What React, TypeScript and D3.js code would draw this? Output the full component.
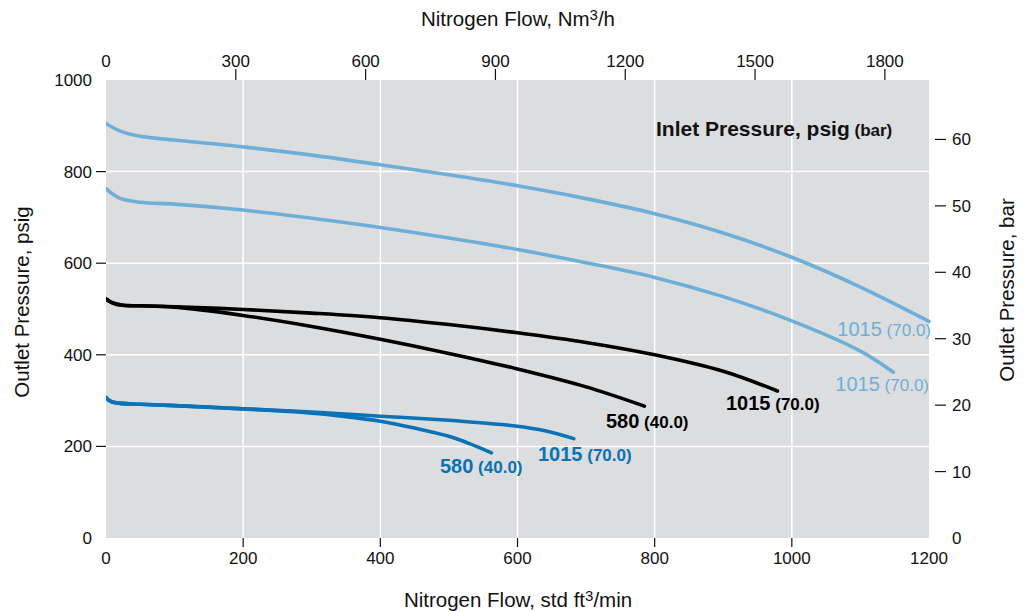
import React, { useEffect, useRef } from "react";
import * as d3 from "d3";

// flow in std ft3/min, outlet pressure in psig
const lightTopFlow = [0, 20, 50, 100, 200, 300, 400, 500, 600, 700, 800, 900, 1000, 1100, 1200];
const lightTopP = [905, 889, 877, 869, 854, 836, 815, 793, 769, 741, 708, 666, 613, 548, 473];

const lightLowFlow = [0, 20, 50, 100, 200, 300, 400, 500, 600, 700, 800, 900, 1000, 1100, 1148];
const lightLowP = [763, 742, 733, 729, 716, 698, 678, 655, 630, 601, 569, 527, 474, 408, 362];

const black1015Flow = [0, 10, 25, 50, 100, 200, 300, 400, 500, 600, 700, 800, 900, 979];
const black1015P = [522, 513, 508, 507, 505, 499, 491, 481, 466, 448, 427, 400, 364, 321];

const black580Flow = [0, 10, 25, 50, 100, 200, 300, 400, 500, 600, 700, 785];
const black580P = [522, 513, 508, 507, 504, 486, 462, 434, 403, 369, 330, 288];

const blue1015Flow = [0, 5, 15, 50, 100, 200, 300, 400, 500, 550, 600, 640, 682];
const blue1015P = [307, 300, 295, 292, 289, 282, 275, 266, 257, 251, 244, 234, 217];

const blue580Flow = [0, 5, 15, 50, 100, 200, 280, 350, 400, 450, 500, 530, 562];
const blue580P = [307, 300, 295, 292, 289, 282, 275, 265, 255, 240, 222, 206, 186];

const bottomTicks = [0, 200, 400, 600, 800, 1000, 1200];
const topTicks = [0, 300, 600, 900, 1200, 1500, 1800];
const leftTicks = [0, 200, 400, 600, 800, 1000];
const rightTicks = [0, 10, 20, 30, 40, 50, 60];

const NM3H_PER_SCFM = 1.585;
const PSI_PER_BAR = 14.5038;

const LIGHT = "#6eafd7";
const DARK = "#0a72b6";
const BLACK = "#000000";

const FONT = "'Liberation Sans', Arial, Helvetica, sans-serif";

export default function App() {
  const svgRef = useRef<SVGSVGElement>(null);

  useEffect(() => {
    const svg = d3.select(svgRef.current);
    svg.selectAll("*").remove();

    const left = 106, right = 929, top = 80, bottom = 538;

    const x = d3.scaleLinear().domain([0, 1200]).range([left, right]);
    const xTop = d3.scaleLinear().domain([0, 1200 * NM3H_PER_SCFM]).range([left, right]);
    const y = d3.scaleLinear().domain([0, 1000]).range([bottom, top]);
    const yBar = d3.scaleLinear().domain([0, 1000 / PSI_PER_BAR]).range([bottom, top]);

    svg.append("rect")
      .attr("x", left).attr("y", top)
      .attr("width", right - left).attr("height", bottom - top)
      .attr("fill", "#dcdddf");

    // grid
    svg.append("g").selectAll("line")
      .data([200, 400, 600, 800, 1000])
      .enter().append("line")
      .attr("x1", d => x(d)).attr("x2", d => x(d))
      .attr("y1", top).attr("y2", bottom)
      .attr("stroke", "#fff").attr("stroke-width", 1.5);
    svg.append("g").selectAll("line")
      .data([200, 400, 600, 800])
      .enter().append("line")
      .attr("y1", d => y(d)).attr("y2", d => y(d))
      .attr("x1", left).attr("x2", right)
      .attr("stroke", "#fff").attr("stroke-width", 1.5);

    const tickStyle = (g: any) => g
      .style("font-family", FONT).style("font-size", "17px").attr("fill", "#111");

    // bottom axis
    const bx = svg.append("g").call(tickStyle);
    bottomTicks.forEach(t => {
      if (t > 0 && t < 1200) {
        bx.append("line").attr("x1", x(t)).attr("x2", x(t))
          .attr("y1", bottom).attr("y2", bottom + 9).attr("stroke", "#111").attr("stroke-width", 1.2);
      }
      bx.append("text").attr("x", x(t)).attr("y", 564)
        .attr("text-anchor", "middle").text(t);
    });

    // top axis
    const tx = svg.append("g").call(tickStyle);
    topTicks.forEach(t => {
      if (t > 0) {
        tx.append("line").attr("x1", xTop(t)).attr("x2", xTop(t))
          .attr("y1", top - 11).attr("y2", top).attr("stroke", "#111").attr("stroke-width", 1.2);
      }
      tx.append("text").attr("x", xTop(t)).attr("y", 67)
        .attr("text-anchor", "middle").text(t);
    });

    // left axis
    const lx = svg.append("g").call(tickStyle);
    leftTicks.forEach(t => {
      if (t > 0 && t < 1000) {
        lx.append("line").attr("x1", left - 10).attr("x2", left)
          .attr("y1", y(t)).attr("y2", y(t)).attr("stroke", "#111").attr("stroke-width", 1.2);
      }
      lx.append("text").attr("x", 92).attr("y", y(t)).attr("dy", "0.35em")
        .attr("text-anchor", "end").text(t);
    });

    // right axis (bar)
    const rx = svg.append("g").call(tickStyle);
    rightTicks.forEach(t => {
      if (t > 0) {
        rx.append("line").attr("x1", 935).attr("x2", 946)
          .attr("y1", yBar(t)).attr("y2", yBar(t)).attr("stroke", "#111").attr("stroke-width", 1.2);
      }
      rx.append("text").attr("x", 952).attr("y", yBar(t)).attr("dy", "0.35em")
        .attr("text-anchor", "start").text(t);
    });

    // axis titles
    const title = (tx0: number, ty0: number, rot: number, main: string, sup: string, tail: string) => {
      const t = svg.append("text")
        .attr("transform", `translate(${tx0},${ty0}) rotate(${rot})`)
        .attr("text-anchor", "middle")
        .style("font-family", FONT).style("font-size", "20.5px").attr("fill", "#111");
      t.append("tspan").text(main);
      if (sup) {
        t.append("tspan").attr("dy", -6).style("font-size", "15px").text(sup);
        t.append("tspan").attr("dy", 6).text(tail);
      }
    };
    title(518, 26, 0, "Nitrogen Flow, Nm", "3", "/h");
    title(518, 607, 0, "Nitrogen Flow, std ft", "3", "/min");
    title(29, 302, -90, "Outlet Pressure, psig", "", "");
    title(1014, 290, -90, "Outlet Pressure, bar", "", "");

    // curves
    svg.append("clipPath").attr("id", "plotclip")
      .append("rect").attr("x", left).attr("y", top - 5)
      .attr("width", right - left + 4).attr("height", bottom - top + 5);

    const line = d3.line<[number, number]>()
      .x(d => x(d[0])).y(d => y(d[1]))
      .curve(d3.curveCatmullRom.alpha(0.5));

    const curves: { f: number[]; p: number[]; c: string }[] = [
      { f: lightTopFlow, p: lightTopP, c: LIGHT },
      { f: lightLowFlow, p: lightLowP, c: LIGHT },
      { f: black580Flow, p: black580P, c: BLACK },
      { f: black1015Flow, p: black1015P, c: BLACK },
      { f: blue580Flow, p: blue580P, c: DARK },
      { f: blue1015Flow, p: blue1015P, c: DARK },
    ];
    const cg = svg.append("g").attr("clip-path", "url(#plotclip)");
    curves.forEach(cv => {
      const pts = cv.f.map((f, i) => [f, cv.p[i]] as [number, number]);
      cg.append("path").attr("d", line(pts))
        .attr("fill", "none").attr("stroke", cv.c)
        .attr("stroke-width", 3.6).attr("stroke-linecap", "round");
    });

    // curve labels
    const label = (lx0: number, ly0: number, anchor: string, a: string, b: string, color: string, bold: boolean) => {
      const t = svg.append("text").attr("x", lx0).attr("y", ly0)
        .attr("text-anchor", anchor)
        .style("font-family", FONT).attr("fill", color)
        .style("font-weight", bold ? "bold" : "normal");
      t.append("tspan").style("font-size", "20px").text(a);
      t.append("tspan").style("font-size", "17px").text(" " + b);
    };
    label(931, 336, "end", "1015", "(70.0)", LIGHT, false);
    label(929, 391, "end", "1015", "(70.0)", LIGHT, false);
    label(726, 410, "start", "1015", "(70.0)", BLACK, true);
    label(606, 428, "start", "580", "(40.0)", BLACK, true);
    label(538, 461, "start", "1015", "(70.0)", DARK, true);
    label(440, 473, "start", "580", "(40.0)", DARK, true);

    // inlet pressure legend
    const il = svg.append("text").attr("x", 656).attr("y", 136)
      .style("font-family", FONT).style("font-weight", "bold").attr("fill", "#111");
    il.append("tspan").style("font-size", "21px").text("Inlet Pressure, psig");
    il.append("tspan").style("font-size", "17px").text(" (bar)");
  }, []);

  return (
    <svg ref={svgRef} width={1031} height={611}
      style={{ position: "absolute", left: 0, top: 0, background: "#fff" }} />
  );
}
